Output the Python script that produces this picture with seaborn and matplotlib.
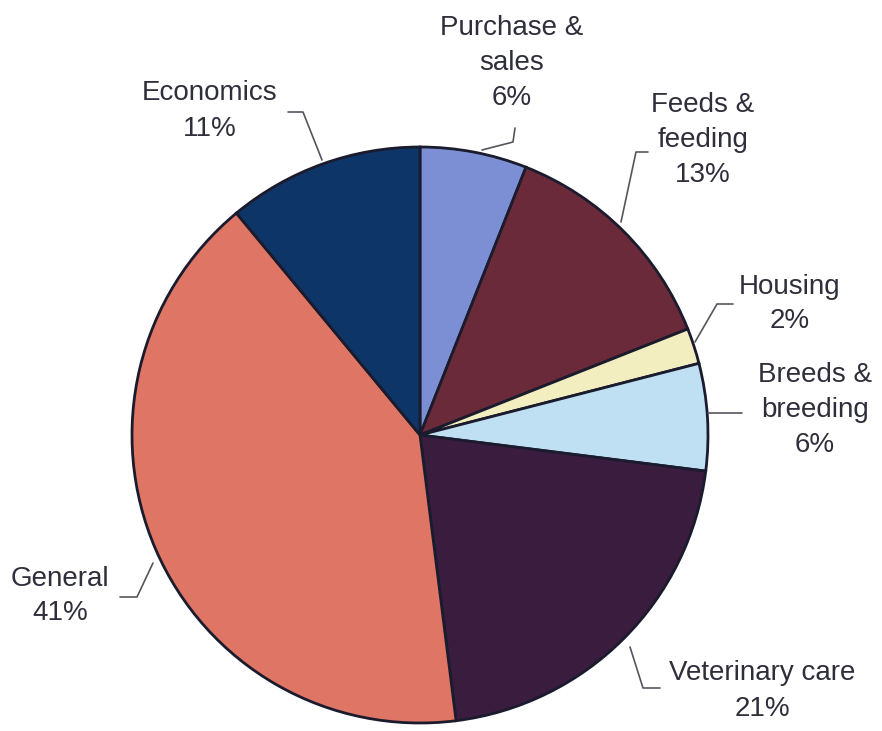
import matplotlib
matplotlib.use("Agg")
import matplotlib.pyplot as plt
import seaborn as sns

# Share of topics (percent), clockwise from 12 o'clock
categories = ["Purchase &\nsales", "Feeds &\nfeeding", "Housing", "Breeds &\nbreeding",
              "Veterinary care", "General", "Economics"]
shares = [6, 13, 2, 6, 21, 41, 11]
colors = ["#7d8fd4", "#6a2a3a", "#f3eebf", "#bfe0f3", "#3a1c3e", "#df7564", "#0e3567"]

sns.set_theme(style="white")
plt.rcParams["font.family"] = ["Liberation Sans", "DejaVu Sans"]

W, H = 882, 731
fig = plt.figure(figsize=(W / 100, H / 100), dpi=100)
ax = fig.add_axes([0, 0, 1, 1])

# canvas coordinates in pixels, measured from the top-left corner
def px(x, y):
    return x, H - y

cx, cy, r = 420, 435, 288
ax.pie(shares, colors=colors, startangle=90, counterclock=False,
       center=px(cx, cy), radius=r,
       wedgeprops=dict(edgecolor="#1b1b2e", linewidth=2.0))
ax.set_xlim(0, W)
ax.set_ylim(0, H)
ax.set_aspect("equal")
ax.axis("off")

# label placement and leader lines (text centre; leader path)
label_specs = [
    ((512, 63), [(482, 150), (513, 142), (515, 128)]),
    ((703, 140), [(621, 222), (636, 152), (648, 152)]),
    ((790, 304), [(695, 342), (717, 304), (733, 304)]),
    ((815, 410), [(708, 413), (742, 413)]),
    ((762, 691), [(630, 647), (643, 688), (660, 688)]),
    ((60, 596), [(153, 563), (137, 597), (120, 597)]),
    ((210, 111), [(322, 160), (303, 112), (288, 112)]),
]

for name, val, ((tx, ty), path) in zip(categories, shares, label_specs):
    ax.text(*px(tx, ty), f"{name}\n{val}%", ha="center", va="center",
            fontsize=20, color="#2f2f3b", linespacing=1.45)
    pts = [px(x, y) for x, y in path]
    xs, ys = zip(*pts)
    ax.plot(xs, ys, color="#555560", linewidth=1.2)

fig.savefig("out.png", dpi=100, facecolor="white")
